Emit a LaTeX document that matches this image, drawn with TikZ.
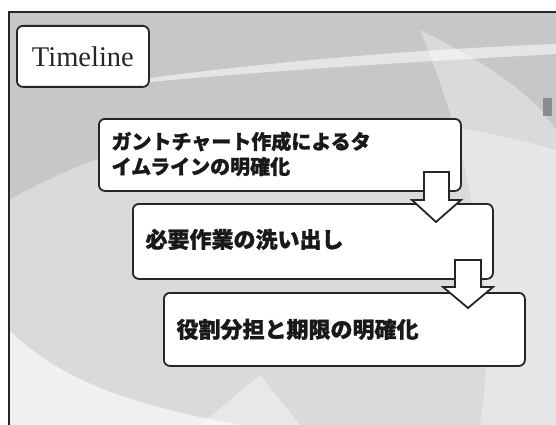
\documentclass[tikz,border=0pt]{standalone}
\usepackage{fontspec}
\setmainfont{Liberation Serif}
\newfontfamily\jp{Noto Sans CJK JP}[BoldFeatures={FakeBold=1.2}]
\begin{document}
\begin{tikzpicture}[x=1pt,y=-1pt,
  box/.style={draw=black!85, line width=1.8pt, fill=white, rounded corners=6pt, anchor=north west, inner sep=0pt},
  jptext/.style={font=\jp\bfseries, text=black!90},
  blockarrow/.style={draw=black!85, line width=1.8pt, fill=white, line join=miter}]
\useasboundingbox (0,0) rectangle (556,425);
% background
\begin{scope}
\clip (9,12) rectangle (556,425);
\fill[black!22] (9,12) rectangle (556,425);
\fill[white, opacity=0.35] (9,200) .. controls (150,120) and (350,90) .. (556,150) -- (556,425) -- (9,425) -- cycle;
\fill[white, opacity=0.55] (150,78) .. controls (300,58) and (450,48) .. (556,44) -- (556,54) .. controls (450,60) and (300,68) .. (150,82) -- cycle;
\fill[white, opacity=0.6] (9,330) .. controls (60,380) and (130,405) .. (240,425) -- (9,425) -- cycle;
\fill[white, opacity=0.35] (420,30) .. controls (480,60) and (530,90) .. (556,130) -- (556,425) -- (480,425) .. controls (500,300) and (470,150) .. (420,30) -- cycle;
\fill[white, opacity=0.4] (200,425) -- (260,375) -- (300,425) -- cycle;
\fill[black!45] (543,98) rectangle (552,116);
\end{scope}
\draw[black!85, line width=2pt] (9,425) -- (9,12) -- (556,12);
% title
\node[box, minimum width=132pt, minimum height=61pt] (title) at (16,25) {};
\node[font=\fontsize{28.5}{30}\selectfont, text=black!85] (titletext) at (title.center) {Timeline};
% boxes
\node[box, minimum width=362pt, minimum height=72pt] (b1) at (98,118) {};
\node[jptext, anchor=west, align=left, font=\fontsize{20}{25}\selectfont\jp\bfseries] (t1) at ([xshift=10pt,yshift=1pt]b1.west) {ガントチャート作成によるタ\\イムラインの明確化};
\node[box, minimum width=360pt, minimum height=75pt] (b2) at (132,203) {};
\node[jptext, anchor=west, font=\fontsize{22}{26}\selectfont\jp\bfseries] (t2) at ([xshift=10pt,yshift=2pt]b2.west) {必要作業の洗い出し};
\node[box, minimum width=361pt, minimum height=73pt] (b3) at (163,292) {};
\node[jptext, anchor=west, font=\fontsize{22}{26}\selectfont\jp\bfseries] (t3) at ([xshift=10pt,yshift=0pt]b3.west) {役割分担と期限の明確化};
% arrows
\coordinate (a1) at (436,222);
\coordinate (a2) at (468,308);
\draw[blockarrow] (a1) -- ++(-24,-22) -- ++(12,0) -- ++(0,-28) -- ++(25,0) -- ++(0,28) -- ++(12,0) -- cycle;
\draw[blockarrow] (a2) -- ++(-25,-21) -- ++(12,0) -- ++(0,-27) -- ++(26,0) -- ++(0,27) -- ++(12,0) -- cycle;
\end{tikzpicture}
\end{document}
